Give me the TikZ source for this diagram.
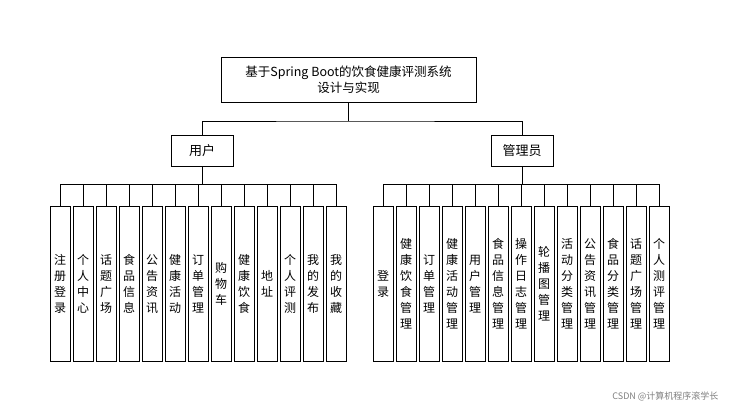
\documentclass[tikz,border=0pt]{standalone}
\usepackage{fontspec}
\setmainfont{Noto Sans CJK SC}
\begin{document}
\begin{tikzpicture}[x=1pt,y=-1pt,
  box/.style={draw=black,line width=0.8pt,fill=white,inner sep=1pt,align=center},
  leaf/.style={box,minimum width=20pt,minimum height=155pt,font=\fontsize{12}{16}\selectfont,anchor=north},
  ln/.style={draw=black,line width=0.8pt}]
\useasboundingbox (0,0) rectangle (730,409);
\fill[white] (0,0) rectangle (730,409);
\node[box,minimum width=255pt,minimum height=45pt,font=\fontsize{12.5}{16}\selectfont] (top) at (348.5,79.5) {基于Spring Boot的饮食健康评测系统\\设计与实现};
\node[box,minimum width=62pt,minimum height=31pt,font=\fontsize{13}{16}\selectfont] (u) at (202,150.5) {用户};
\node[box,minimum width=62pt,minimum height=31pt,font=\fontsize{13}{16}\selectfont] (a) at (522,150.5) {管理员};
\coordinate (t1) at (348.5,121);
\draw[ln] (top.south) -- (t1);
\draw[ln] (u.north) |- (t1) -| (a.north);
\foreach \t [count=\i from 0] in {注\\册\\登\\录,个\\人\\中\\心,话\\题\\广\\场,食\\品\\信\\息,公\\告\\资\\讯,健\\康\\活\\动,订\\单\\管\\理,购\\物\\车,健\\康\\饮\\食,地\\址,个\\人\\评\\测,我\\的\\发\\布,我\\的\\收\\藏}{
  \node[leaf] (ul\i) at ({60+23*\i},206) {\t};
  \coordinate (ub\i) at ({60+23*\i},184);
  \draw[ln] (ul\i.north) -- (ub\i);
}
\foreach \t [count=\i from 0] in {登\\录,健\\康\\饮\\食\\管\\理,订\\单\\管\\理,健\\康\\活\\动\\管\\理,用\\户\\管\\理,食\\品\\信\\息\\管\\理,操\\作\\日\\志\\管\\理,轮\\播\\图\\管\\理,活\\动\\分\\类\\管\\理,公\\告\\资\\讯\\管\\理,食\\品\\分\\类\\管\\理,话\\题\\广\\场\\管\\理,个\\人\\测\\评\\管\\理}{
  \node[leaf] (al\i) at ({383+23*\i},206) {\t};
  \coordinate (ab\i) at ({383+23*\i},184);
  \draw[ln] (al\i.north) -- (ab\i);
}
\coordinate (um) at (202,184);
\coordinate (am) at (522,184);
\draw[ln] (ub0) -- (ub12);
\draw[ln] (ab0) -- (ab12);
\draw[ln] (u.south) -- (um);
\draw[ln] (a.south) -- (am);
\node[font=\fontsize{9}{11}\selectfont,text=gray,anchor=east] (wm) at (722,396) {CSDN @计算机程序滚学长};
\end{tikzpicture}
\end{document}
